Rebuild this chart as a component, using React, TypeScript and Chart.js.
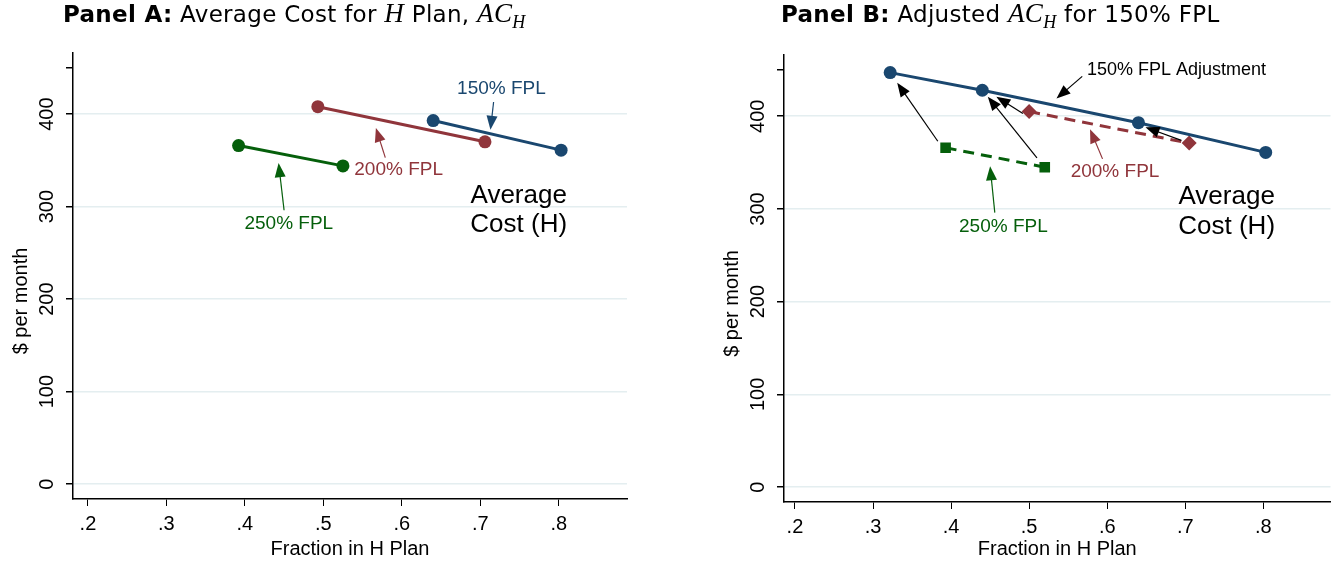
import React, { useEffect, useRef } from "react";
import { Chart, registerables } from "chart.js";
Chart.register(...registerables);

const BLUE = "#1a476f", RED = "#90353b", GREEN = "#055f0b";
const yTicks = [0, 100, 200, 300, 400, 450];
const xTicks = [0.2, 0.3, 0.4, 0.5, 0.6, 0.7, 0.8];

// Panel A data
const a150 = [{ x: 0.64, y: 393 }, { x: 0.803, y: 361 }];
const a200 = [{ x: 0.493, y: 408 }, { x: 0.706, y: 370 }];
const a250 = [{ x: 0.392, y: 366 }, { x: 0.525, y: 344 }];
// Panel B data
const b150 = [{ x: 0.322, y: 447 }, { x: 0.44, y: 428 }, { x: 0.64, y: 393 }, { x: 0.803, y: 361 }];
const b200 = [{ x: 0.5, y: 405 }, { x: 0.705, y: 371 }];
const b250 = [{ x: 0.393, y: 366 }, { x: 0.52, y: 345 }];

type Txt = { t: string; x: number; y: number; c: string; s: number; align?: CanvasTextAlign };
type Arr = { x1: number; y1: number; x2: number; y2: number; c: string };

const aTexts: Txt[] = [
  { t: "150% FPL", x: 0.727, y: 427, c: BLUE, s: 19 },
  { t: "200% FPL", x: 0.596, y: 340, c: RED, s: 19 },
  { t: "250% FPL", x: 0.456, y: 281, c: GREEN, s: 19 },
  { t: "Average", x: 0.749, y: 312, c: "#000", s: 26 },
  { t: "Cost (H)", x: 0.749, y: 280, c: "#000", s: 26 },
];
const aArrows: Arr[] = [
  { x1: 0.717, y1: 413, x2: 0.713, y2: 383, c: BLUE },
  { x1: 0.579, y1: 353, x2: 0.567, y2: 385, c: RED },
  { x1: 0.45, y1: 296, x2: 0.443, y2: 347, c: GREEN },
];
const bTexts: Txt[] = [
  { t: "150% FPL Adjustment", x: 0.574, y: 450, c: "#000", s: 18, align: "left" },
  { t: "200% FPL", x: 0.61, y: 340, c: RED, s: 19 },
  { t: "250% FPL", x: 0.467, y: 281, c: GREEN, s: 19 },
  { t: "Average", x: 0.753, y: 313, c: "#000", s: 26 },
  { t: "Cost (H)", x: 0.753, y: 281, c: "#000", s: 26 },
];
const bArrows: Arr[] = [
  { x1: 0.568, y1: 443, x2: 0.535, y2: 419, c: "#000" },
  { x1: 0.594, y1: 354, x2: 0.578, y2: 386, c: RED },
  { x1: 0.456, y1: 296, x2: 0.45, y2: 346, c: GREEN },
  { x1: 0.383, y1: 373, x2: 0.331, y2: 436, c: "#000" },
  { x1: 0.51, y1: 355, x2: 0.447, y2: 421, c: "#000" },
  { x1: 0.492, y1: 403, x2: 0.458, y2: 421, c: "#000" },
  { x1: 0.695, y1: 374, x2: 0.649, y2: 388, c: "#000" },
];

const FONT = "'Liberation Sans', Arial, sans-serif";

function makePlugin(texts: Txt[], arrows: Arr[]) {
  return {
    id: "ann",
    afterDraw(chart: any) {
      const ctx = chart.ctx, xs = chart.scales.x, ys = chart.scales.y;
      ctx.save();
      ctx.fillStyle = "#000";
      ctx.font = `20px ${FONT}`;
      ctx.textAlign = "center";
      ctx.textBaseline = "middle";
      const ax = chart.chartArea.left;
      for (const v of [0, 100, 200, 300, 400]) {
        const py = ys.getPixelForValue(v);
        ctx.save();
        ctx.translate(ax - 26, py);
        ctx.rotate(-Math.PI / 2);
        ctx.fillText(String(v), 0, 0);
        ctx.restore();
      }
      ctx.save();
      ctx.translate(ax - 52, (chart.chartArea.top + chart.chartArea.bottom) / 2 + 25);
      ctx.rotate(-Math.PI / 2);
      ctx.fillText("$ per month", 0, 0);
      ctx.restore();
      for (const a of arrows) {
        const x1 = xs.getPixelForValue(a.x1), y1 = ys.getPixelForValue(a.y1);
        const x2 = xs.getPixelForValue(a.x2), y2 = ys.getPixelForValue(a.y2);
        const ang = Math.atan2(y2 - y1, x2 - x1);
        ctx.strokeStyle = a.c; ctx.fillStyle = a.c; ctx.lineWidth = 1.2;
        ctx.beginPath(); ctx.moveTo(x1, y1);
        ctx.lineTo(x2 - 8 * Math.cos(ang), y2 - 8 * Math.sin(ang)); ctx.stroke();
        ctx.beginPath(); ctx.moveTo(x2, y2);
        ctx.lineTo(x2 - 14 * Math.cos(ang) + 5.5 * Math.sin(ang), y2 - 14 * Math.sin(ang) - 5.5 * Math.cos(ang));
        ctx.lineTo(x2 - 14 * Math.cos(ang) - 5.5 * Math.sin(ang), y2 - 14 * Math.sin(ang) + 5.5 * Math.cos(ang));
        ctx.closePath(); ctx.fill();
      }
      for (const t of texts) {
        ctx.fillStyle = t.c;
        ctx.font = `${t.s}px ${FONT}`;
        ctx.textAlign = t.align || "center";
        ctx.fillText(t.t, xs.getPixelForValue(t.x), ys.getPixelForValue(t.y));
      }
      ctx.restore();
    },
  };
}

function ds(data: any[], color: string, style: string, dashed: boolean) {
  return {
    data, borderColor: color, backgroundColor: color, borderWidth: 3,
    showLine: true, pointStyle: style, pointRadius: style === "circle" ? 6.5 : 7.5,
    borderDash: dashed ? [11, 7] : [], pointBorderWidth: 0,
  };
}

function Panel({ datasets, texts, arrows, xmin, xmax, left, right, top, bottom }: any) {
  const ref = useRef<HTMLCanvasElement>(null);
  useEffect(() => {
    const chart = new Chart(ref.current!, {
      type: "scatter",
      data: { datasets },
      plugins: [makePlugin(texts, arrows)],
      options: {
        animation: false, responsive: false, devicePixelRatio: 1,
        layout: { padding: { top, right, left: 0, bottom: 0 } },
        plugins: { legend: { display: false }, tooltip: { enabled: false } },
        scales: {
          x: {
            type: "linear", min: xmin, max: xmax,
            afterBuildTicks: (s: any) => { s.ticks = xTicks.map((v) => ({ value: v })); },
            afterFit: (s: any) => { s.height = bottom; },
            ticks: { color: "#000", font: { size: 20, family: FONT }, padding: 6,
              callback: (v: any) => String(Number(v).toFixed(1)).replace(/^0/, "") },
            grid: { drawOnChartArea: false, tickLength: 7, color: "#000", tickColor: "#000" },
            border: { color: "#000", width: 1.5 },
            title: { display: true, text: "Fraction in H Plan", color: "#000", font: { size: 20, family: FONT }, padding: { top: -6 } },
          },
          y: {
            type: "linear", min: -16, max: 466,
            afterBuildTicks: (s: any) => { s.ticks = yTicks.map((v) => ({ value: v })); },
            afterFit: (s: any) => { s.width = left; },
            ticks: { color: "rgba(0,0,0,0)", callback: () => "" },
            grid: { tickLength: 7, color: (c: any) => (c.tick && c.tick.value === 450 ? "rgba(0,0,0,0)" : "#e4eef0"),
              lineWidth: 1.5, tickColor: "#000" },
            border: { color: "#000", width: 1.5 },
          },
        },
      },
    });
    return () => chart.destroy();
  }, []);
  return <canvas ref={ref} width={669} height={525} style={{ width: 669, height: 525, display: "block" }} />;
}

const titleStyle: React.CSSProperties = { position: "absolute", top: -2, fontFamily: "'DejaVu Sans', sans-serif", fontSize: 23, color: "#000", whiteSpace: "nowrap", letterSpacing: 0.3 };
const M = ({ children }: any) => <span style={{ fontFamily: "'Liberation Serif', serif", fontStyle: "italic", fontSize: 27 }}>{children}</span>;

export default function App() {
  return (
    <div style={{ position: "fixed", left: 0, top: 0, width: 1338, height: 565, background: "#fff" }}>
      <div style={{ ...titleStyle, left: 63 }}>
        <b>Panel A:</b> Average Cost for <M>H</M> Plan, <M>AC<sub style={{ fontSize: 18 }}>H</sub></M>
      </div>
      <div style={{ ...titleStyle, left: 781 }}>
        <b>Panel B:</b> Adjusted <M>AC<sub style={{ fontSize: 18 }}>H</sub></M> for 150% FPL
      </div>
      <div style={{ position: "absolute", left: 0, top: 40 }}>
        <Panel datasets={[ds(a150, BLUE, "circle", false), ds(a200, RED, "circle", false), ds(a250, GREEN, "circle", false)]}
          texts={aTexts} arrows={aArrows} xmin={0.181} xmax={0.887} left={73} right={42} top={13} bottom={66} />
      </div>
      <div style={{ position: "absolute", left: 669, top: 40 }}>
        <Panel datasets={[ds(b150, BLUE, "circle", false), ds(b200, RED, "rectRot", true), ds(b250, GREEN, "rect", true)]}
          texts={bTexts} arrows={bArrows} xmin={0.186} xmax={0.886} left={115} right={7} top={15} bottom={63} />
      </div>
    </div>
  );
}
